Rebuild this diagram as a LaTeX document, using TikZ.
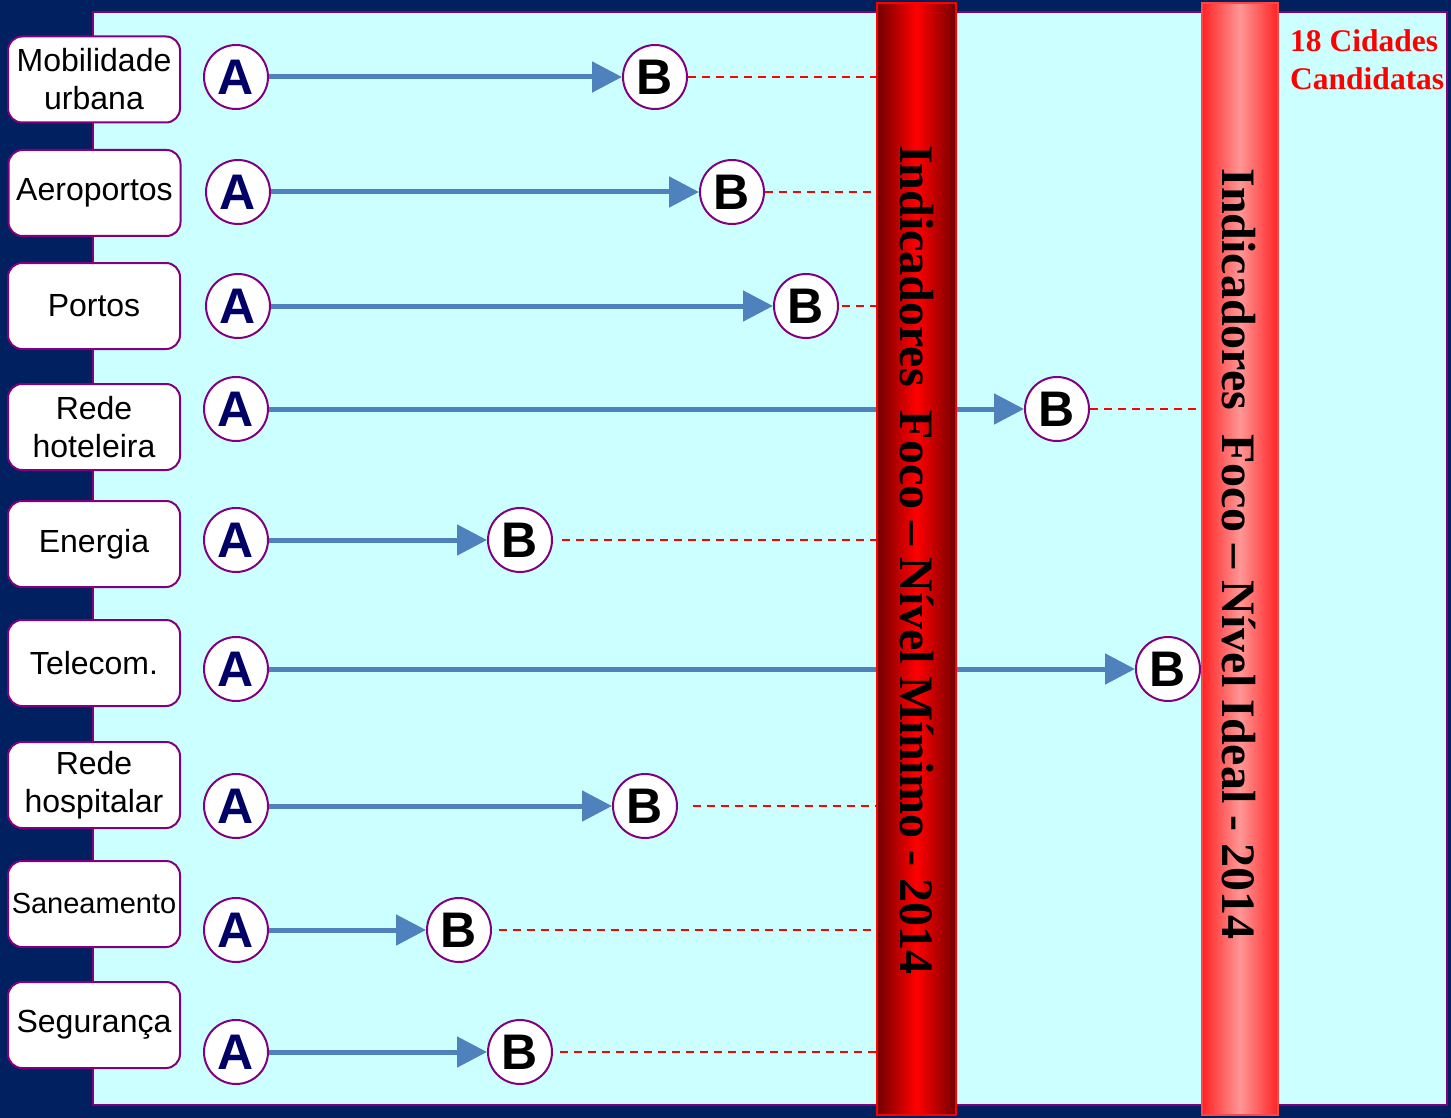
\documentclass[tikz,border=0pt]{standalone}
\usepackage{fontspec}
\setmainfont{Liberation Sans}
\newfontfamily\timesf{Liberation Serif}
\usetikzlibrary{arrows.meta}
\definecolor{navy}{RGB}{0,32,96}
\definecolor{panel}{RGB}{204,255,255}
\definecolor{purp}{RGB}{128,0,128}
\definecolor{steel}{RGB}{79,129,189}
\definecolor{aletter}{RGB}{0,0,102}
\definecolor{darkbar}{RGB}{115,0,0}
\definecolor{lightedge}{RGB}{255,35,35}
\definecolor{lightmid}{RGB}{255,150,150}
\definecolor{lightborder}{RGB}{255,70,70}
\begin{document}
\begin{tikzpicture}[x=1pt,y=-1pt,
  labelbox/.style={draw=purp, line width=2pt, fill=white, rounded corners=14pt,
    minimum width=172pt, minimum height=86pt, align=center, inner sep=0pt,
    font=\fontsize{32}{38}\selectfont},
  circ/.style={circle, draw=purp, line width=2pt, fill=white, minimum size=64pt,
    inner sep=0pt, font=\fontsize{50}{50}\selectfont\bfseries},
  acirc/.style={circ, text=aletter},
  bcirc/.style={circ, text=black},
  flow/.style={draw=steel, line width=5pt, -{Triangle[length=30pt,width=30pt]}},
  guide/.style={draw=red, line width=1.8pt, dash pattern=on 8pt off 6pt},
  bartext/.style={rotate=-90, anchor=base, inner sep=0pt,
    font=\timesf\bfseries\fontsize{48}{48}\selectfont},
]
% background and panel
\fill[navy] (0,0) rectangle (1451,1118);
\useasboundingbox (0,0) rectangle (1451,1118);
\draw[purp, line width=2pt, fill=panel] (93,12) rectangle (1447,1105);

% labels
\node[labelbox] (L1) at (94,79.5) {Mobilidade\\urbana};
\node[labelbox] (L2) at (94.5,193) {Aeroportos};
\node[labelbox] (L3) at (94,306) {Portos};
\node[labelbox] (L4) at (94,427) {Rede\\hoteleira};
\node[labelbox] (L5) at (94,544) {Energia};
\node[labelbox] (L6) at (94,663) {Telecom.};
\node[labelbox] (L7) at (94,785) {Rede\\hospitalar};
\node[labelbox, font=\fontsize{29}{36}\selectfont] (L8) at (94,904) {Saneamento};
\node[labelbox] (L9) at (94,1025) {Segurança};

% circles A
\node[acirc] (A1) at (236,77) {A};
\node[acirc] (A2) at (238,192) {A};
\node[acirc] (A3) at (238,306) {A};
\node[acirc] (A4) at (236,409) {A};
\node[acirc] (A5) at (236,540) {A};
\node[acirc] (A6) at (236,669) {A};
\node[acirc] (A7) at (236,806) {A};
\node[acirc] (A8) at (236,930) {A};
\node[acirc] (A9) at (236,1052) {A};

% circles B
\node[bcirc] (B1) at (655,77) {B};
\node[bcirc] (B2) at (732,192) {B};
\node[bcirc] (B3) at (806,306) {B};
\node[bcirc] (B4) at (1057,409) {B};
\node[bcirc] (B5) at (520,540) {B};
\node[bcirc] (B6) at (1168,669) {B};
\node[bcirc] (B7) at (645,806) {B};
\node[bcirc] (B8) at (459,930) {B};
\node[bcirc] (B9) at (520,1052) {B};

% arrows
\foreach \i in {1,...,9} {\draw[flow] (A\i.east) -- (B\i.west);}

% bars
\node[draw=red, line width=2pt, minimum width=79pt, minimum height=1112pt, inner sep=0pt,
  left color=darkbar, right color=darkbar, middle color=red] (bar1) at (916.5,559) {};
\node[draw=lightborder, line width=2pt, minimum width=76pt,
  minimum height=1112pt, inner sep=0pt,
  left color=lightedge, right color=lightedge, middle color=lightmid] (bar2) at (1240,559) {};

\node[bartext] (T1) at (900,560) {Indicadores\ \ Foco – Nível Mínimo - 2014};
\node[bartext] (T2) at (1222,554) {Indicadores\ \ Foco – Nível Ideal - 2014};

% dashed guides
\draw[guide] (B1.east) -- (B1.east -| bar1.west);
\draw[guide] (B2.east) -- (B2.east -| bar1.west);
\draw[guide, shorten <=3pt] (B3.east) -- (B3.east -| bar1.west);
\draw[guide] (B4.east) -- (B4.east -| bar2.west);
\draw[guide, shorten <=9pt] (B5.east) -- (B5.east -| bar1.west);
\draw[guide, shorten <=15pt] (B7.east) -- (B7.east -| bar1.west);
\draw[guide, shorten <=7pt] (B8.east) -- (B8.east -| bar1.west);
\draw[guide, shorten <=7pt] (B9.east) -- (B9.east -| bar1.west);

% title
\node[anchor=north west, align=left, inner sep=0pt, text=red,
  font=\timesf\bfseries\fontsize{31.5}{38}\selectfont] (cities) at (1290,29) {18 Cidades\\Candidatas};
\end{tikzpicture}
\end{document}
